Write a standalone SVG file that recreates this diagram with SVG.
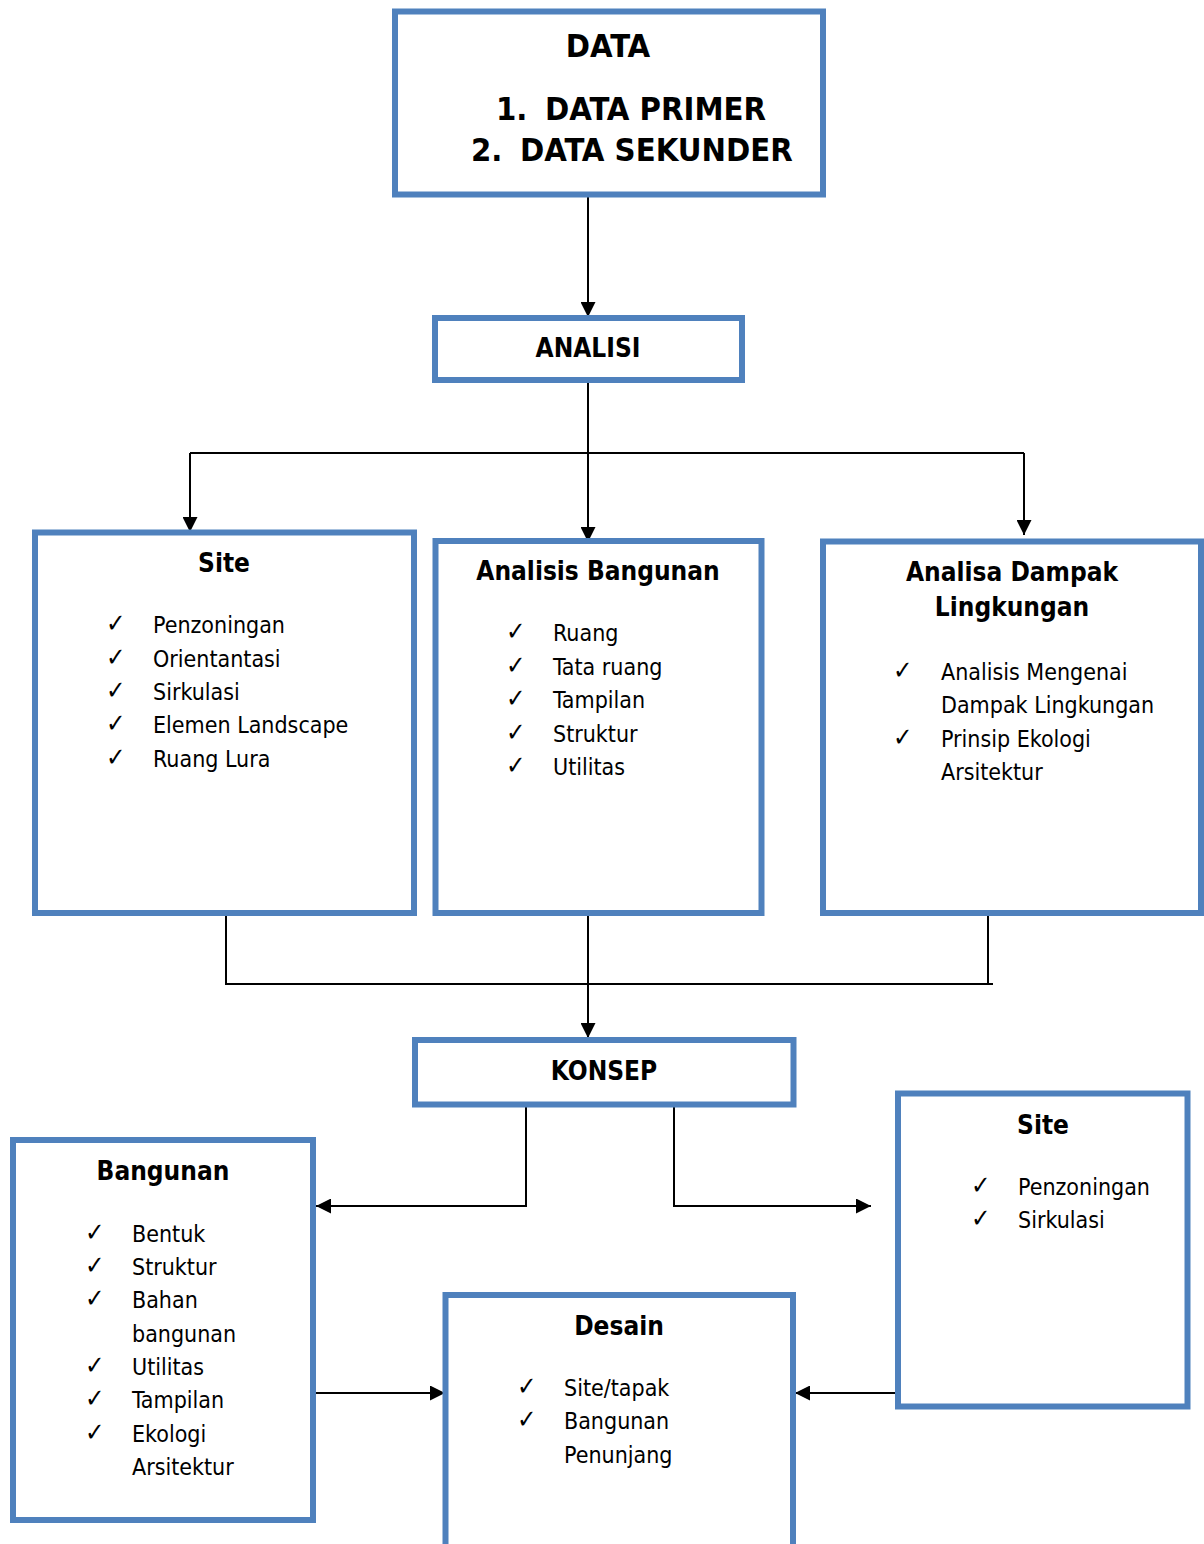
<svg xmlns="http://www.w3.org/2000/svg" width="1204" height="1544" viewBox="0 0 1204 1544">
<defs>
<style>
.box{fill:#fff;stroke:#4F81BD;stroke-width:6}
text{font-family:"DejaVu Sans Condensed","DejaVu Sans",sans-serif;font-stretch:condensed;fill:#000}
.t{font-weight:bold;font-size:26px;text-anchor:middle}
.d{font-weight:bold;font-size:32.5px}
.i{font-size:23px}
.c{font-size:26px}
.ln{fill:none;stroke:#000;stroke-width:2}
</style>
<marker id="ah" markerUnits="userSpaceOnUse" markerWidth="16" markerHeight="15" refX="15" refY="7.5" orient="auto">
<path d="M0,0 L15,7.5 L0,15 z" fill="#000"/>
</marker>
</defs>
<rect width="1204" height="1544" fill="#fff"/>

<g id="connectors">
<path class="ln" d="M588,197 V317" marker-end="url(#ah)"/>
<path class="ln" d="M588,383 V453 M190,453 H1024"/>
<path class="ln" d="M190,453 V532" marker-end="url(#ah)"/>
<path class="ln" d="M588,453 V542" marker-end="url(#ah)"/>
<path class="ln" d="M1024,453 V535" marker-end="url(#ah)"/>
<path class="ln" d="M226,913 V984 H993 M988,913 V984"/>
<path class="ln" d="M588,913 V1038" marker-end="url(#ah)"/>
<path class="ln" d="M526,1104 V1206 H316" marker-end="url(#ah)"/>
<path class="ln" d="M674,1104 V1206 H871" marker-end="url(#ah)"/>
<path class="ln" d="M313,1393 H445" marker-end="url(#ah)"/>
<path class="ln" d="M900,1393 H795" marker-end="url(#ah)"/>
</g>

<g id="data">
<rect class="box" x="395" y="11.5" width="428" height="183"/>
<text class="d" x="608" y="57" text-anchor="middle">DATA</text>
<text class="d" x="496" y="120">1.</text>
<text class="d" x="545" y="120">DATA PRIMER</text>
<text class="d" x="471" y="161">2.</text>
<text class="d" x="520" y="161">DATA SEKUNDER</text>
</g>

<g id="analisi">
<rect class="box" x="435" y="318" width="307" height="62"/>
<text class="t" x="588" y="357">ANALISI</text>
</g>

<g id="site-analysis">
<rect class="box" x="35" y="532.5" width="379" height="380.5"/>
<text class="t" x="224" y="572">Site</text>
<text class="c" x="106" y="632">✓</text><text class="i" x="153" y="633">Penzoningan</text>
<text class="c" x="106" y="666">✓</text><text class="i" x="153" y="667">Orientantasi</text>
<text class="c" x="106" y="699">✓</text><text class="i" x="153" y="700">Sirkulasi</text>
<text class="c" x="106" y="732">✓</text><text class="i" x="153" y="733">Elemen Landscape</text>
<text class="c" x="106" y="766">✓</text><text class="i" x="153" y="767">Ruang Lura</text>
</g>

<g id="analisis-bangunan">
<rect class="box" x="435.5" y="541" width="326" height="372"/>
<text class="t" x="598" y="580">Analisis Bangunan</text>
<text class="c" x="506" y="640">✓</text><text class="i" x="553" y="641">Ruang</text>
<text class="c" x="506" y="674">✓</text><text class="i" x="553" y="675">Tata ruang</text>
<text class="c" x="506" y="707">✓</text><text class="i" x="553" y="708">Tampilan</text>
<text class="c" x="506" y="741">✓</text><text class="i" x="553" y="742">Struktur</text>
<text class="c" x="506" y="774">✓</text><text class="i" x="553" y="775">Utilitas</text>
</g>

<g id="analisa-dampak">
<rect class="box" x="823" y="541.5" width="378" height="371.5"/>
<text class="t" x="1012" y="581">Analisa Dampak</text>
<text class="t" x="1012" y="616">Lingkungan</text>
<text class="c" x="893" y="679">✓</text><text class="i" x="941" y="680">Analisis Mengenai</text>
<text class="i" x="941" y="713">Dampak Lingkungan</text>
<text class="c" x="893" y="746">✓</text><text class="i" x="941" y="747">Prinsip Ekologi</text>
<text class="i" x="941" y="780">Arsitektur</text>
</g>

<g id="konsep">
<rect class="box" x="415" y="1040" width="378.5" height="64.5"/>
<text class="t" x="604" y="1080">KONSEP</text>
</g>

<g id="bangunan">
<rect class="box" x="13" y="1140" width="300" height="380"/>
<text class="t" x="163" y="1180">Bangunan</text>
<text class="c" x="85" y="1241">✓</text><text class="i" x="132" y="1242">Bentuk</text>
<text class="c" x="85" y="1274">✓</text><text class="i" x="132" y="1275">Struktur</text>
<text class="c" x="85" y="1307">✓</text><text class="i" x="132" y="1308">Bahan</text>
<text class="i" x="132" y="1342">bangunan</text>
<text class="c" x="85" y="1374">✓</text><text class="i" x="132" y="1375">Utilitas</text>
<text class="c" x="85" y="1407">✓</text><text class="i" x="132" y="1408">Tampilan</text>
<text class="c" x="85" y="1441">✓</text><text class="i" x="132" y="1442">Ekologi</text>
<text class="i" x="132" y="1475">Arsitektur</text>
</g>

<g id="site-konsep">
<rect class="box" x="898" y="1093.5" width="289.5" height="313"/>
<text class="t" x="1043" y="1134">Site</text>
<text class="c" x="971" y="1194">✓</text><text class="i" x="1018" y="1195">Penzoningan</text>
<text class="c" x="971" y="1227">✓</text><text class="i" x="1018" y="1228">Sirkulasi</text>
</g>

<g id="desain">
<rect class="box" x="445.5" y="1295" width="347.5" height="260"/>
<text class="t" x="619" y="1335">Desain</text>
<text class="c" x="517" y="1395">✓</text><text class="i" x="564" y="1396">Site/tapak</text>
<text class="c" x="517" y="1428">✓</text><text class="i" x="564" y="1429">Bangunan</text>
<text class="i" x="564" y="1463">Penunjang</text>
</g>
</svg>
